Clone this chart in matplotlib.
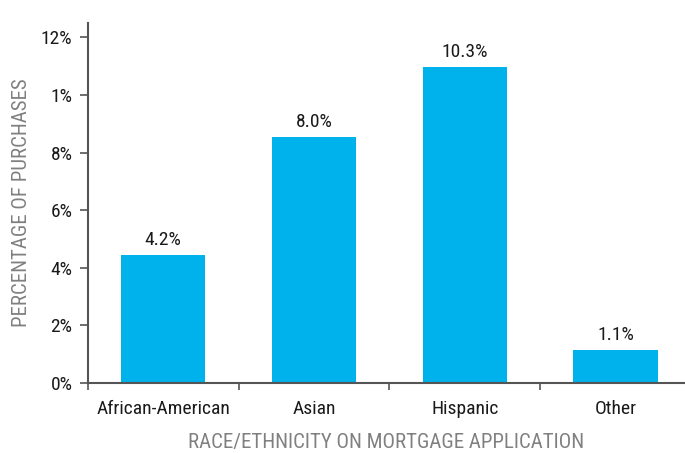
import matplotlib.pyplot as plt
from matplotlib.ticker import FixedLocator

# data
categories = ["African-American", "Asian", "Hispanic", "Other"]
bar_heights = [4.45, 8.56, 10.99, 1.15]   # heights as drawn
bar_labels = ["4.2%", "8.0%", "10.3%", "1.1%"]
y_ticks = [0, 2, 4, 6, 8, 10, 12]
y_tick_labels = ["0%", "2%", "4%", "6%", "8%", "1%", "12%"]

plt.rcParams['font.family'] = ['Roboto Condensed', 'Liberation Sans Narrow', 'Liberation Sans', 'DejaVu Sans']

fig = plt.figure(figsize=(6.85, 4.53), dpi=100)
ax = fig.add_axes([0.128, 0.1545, 0.872, 0.7945])

x = range(len(categories))
bars = ax.bar(x, bar_heights, width=0.56, color="#00B2EB", zorder=2)

for b, lab in zip(bars, bar_labels):
    ax.annotate(lab, (b.get_x() + b.get_width() / 2, b.get_height()),
                xytext=(0, 4), textcoords="offset points",
                ha="center", va="bottom", fontsize=14, color="#1a1a1a")

ax.set_xlim(-0.5, 3.46)
ax.set_ylim(0, 12.5)

ax.set_yticks(y_ticks)
ax.set_yticklabels(y_tick_labels)
ax.set_xticks(list(x))
ax.set_xticklabels(categories)
ax.tick_params(axis="x", which="major", length=0, pad=12, labelsize=14, labelcolor="#1a1a1a")
ax.xaxis.set_minor_locator(FixedLocator([-0.5, 0.5, 1.5, 2.5]))
ax.tick_params(axis="x", which="minor", length=5, width=1.2, color="#555555")
ax.tick_params(axis="y", length=6, width=1.2, color="#555555", pad=5,
               labelsize=14, labelcolor="#1a1a1a")

for side in ["top", "right"]:
    ax.spines[side].set_visible(False)
for side in ["left", "bottom"]:
    ax.spines[side].set_color("#555555")
    ax.spines[side].set_linewidth(1.5)

ax.set_ylabel("PERCENTAGE OF PURCHASES", fontsize=15, color="#808080", labelpad=7)
ax.set_xlabel("RACE/ETHNICITY ON MORTGAGE APPLICATION", fontsize=15, color="#808080", labelpad=11)

fig.savefig("out.png", dpi=100)
